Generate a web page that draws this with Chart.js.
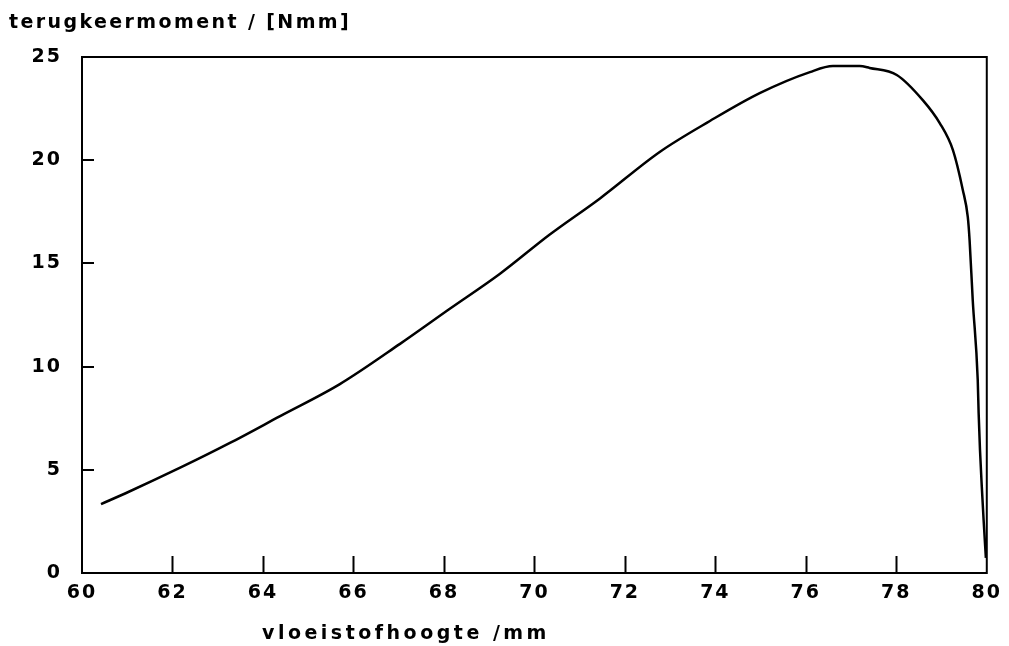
<!DOCTYPE html>
<html>
<head>
<meta charset="utf-8">
<script src="https://cdn.jsdelivr.net/npm/chart.js@4/dist/chart.umd.min.js"></script>
<style>
html,body{margin:0;padding:0;background:#fff;}
#wrap{width:1009px;height:646px;position:relative;}
</style>
</head>
<body>
<div id="wrap"><canvas id="c" width="1009" height="646"></canvas></div>
<script>
// ---- data ----
const heightMm = [60.42, 61.0, 62.17, 63.27, 64.38, 65.70, 67.03, 68.13, 69.24, 70.34, 71.45, 72.77, 73.88, 74.98, 76.09, 76.6, 77.19, 77.41, 78.01, 78.59, 78.96, 79.25, 79.47, 79.58, 79.62, 79.69, 79.80, 79.82, 79.85, 79.89, 79.93, 79.98];
const torqueNmm = [3.34, 3.9, 5.1, 6.3, 7.6, 9.15, 11.1, 12.8, 14.5, 16.4, 18.15, 20.4, 21.9, 23.25, 24.27, 24.56, 24.56, 24.47, 24.13, 22.9, 21.8, 20.5, 18.56, 17.25, 16.13, 13.2, 9.35, 7.75, 5.96, 4.17, 2.57, 0.73];
const xTicks = [60, 62, 64, 66, 68, 70, 72, 74, 76, 78, 80];
const yTicks = [0, 5, 10, 15, 20, 25];
const yTitle = 'terugkeermoment / [Nmm]';
const xTitle = 'vloeistofhoogte /mm';

const points = heightMm.map((h, i) => ({x: h, y: torqueNmm[i]}));
const FONT = 'DejaVu Sans';

const frame = {
  id: 'frame',
  beforeInit(chart){ chart.ctx.letterSpacing = '2px'; },
  beforeDraw(chart){
    const ctx = chart.ctx;
    ctx.save();
    ctx.fillStyle = '#fff';
    ctx.fillRect(0,0,chart.width,chart.height);
    ctx.restore();
    ctx.letterSpacing = '2px';
  },
  afterDatasetsDraw(chart){
    const ctx = chart.ctx, a = chart.chartArea;
    const xs = chart.scales.x, ys = chart.scales.y;
    ctx.save();
    ctx.strokeStyle = '#000';
    ctx.lineWidth = 2;
    ctx.strokeRect(a.left, a.top, a.right - a.left, a.bottom - a.top);
    ctx.beginPath();
    xs.ticks.forEach(t => {
      if (t.value === xs.min || t.value === xs.max) return;
      const px = Math.round(xs.getPixelForValue(t.value)) + 0.5;
      ctx.moveTo(px, a.bottom); ctx.lineTo(px, a.bottom - 17);
    });
    ys.ticks.forEach(t => {
      if (t.value === ys.min || t.value === ys.max) return;
      const py = Math.round(ys.getPixelForValue(t.value));
      ctx.moveTo(a.left, py); ctx.lineTo(a.left + 12, py);
    });
    ctx.stroke();
    // axis titles
    ctx.fillStyle = '#000';
    ctx.textBaseline = 'alphabetic';
    ctx.textAlign = 'left';
    ctx.font = 'bold 19px "' + FONT + '"';
    ctx.letterSpacing = '2.4px';
    ctx.fillText(yTitle, 9, 28);
    ctx.letterSpacing = '3.5px';
    ctx.fillText(xTitle, 262, 639);
    ctx.restore();
    ctx.letterSpacing = '2px';
  }
};

new Chart(document.getElementById('c'), {
  type: 'line',
  data: {
    datasets: [{
      data: points,
      borderColor: '#000',
      borderWidth: 2.5,
      pointRadius: 0,
      fill: false,
      tension: 0,
      cubicInterpolationMode: 'monotone'
    }]
  },
  options: {
    responsive: false,
    animation: false,
    events: [],
    layout: { padding: { top: 57, right: 21, left: 0, bottom: 0 } },
    plugins: { legend: { display: false }, tooltip: { enabled: false } },
    scales: {
      x: {
        type: 'linear', min: 60, max: 80,
        afterBuildTicks(s){ s.ticks = xTicks.map(v => ({value: v})); },
        afterFit(s){ s.height = 73; },
        grid: { display: false, drawTicks: false },
        border: { display: false },
        ticks: { color: '#000', padding: 9, maxRotation: 0, autoSkip: false,
          font: { family: FONT, size: 19, weight: 'bold' } }
      },
      y: {
        type: 'linear', min: 0, max: 25,
        afterBuildTicks(s){ s.ticks = yTicks.map(v => ({value: v})); },
        afterFit(s){ s.width = 82; },
        grid: { display: false, drawTicks: false },
        border: { display: false },
        ticks: { color: '#000', padding: 20, autoSkip: false,
          font: { family: FONT, size: 19, weight: 'bold' } }
      }
    }
  },
  plugins: [frame]
});
</script>
</body>
</html>
